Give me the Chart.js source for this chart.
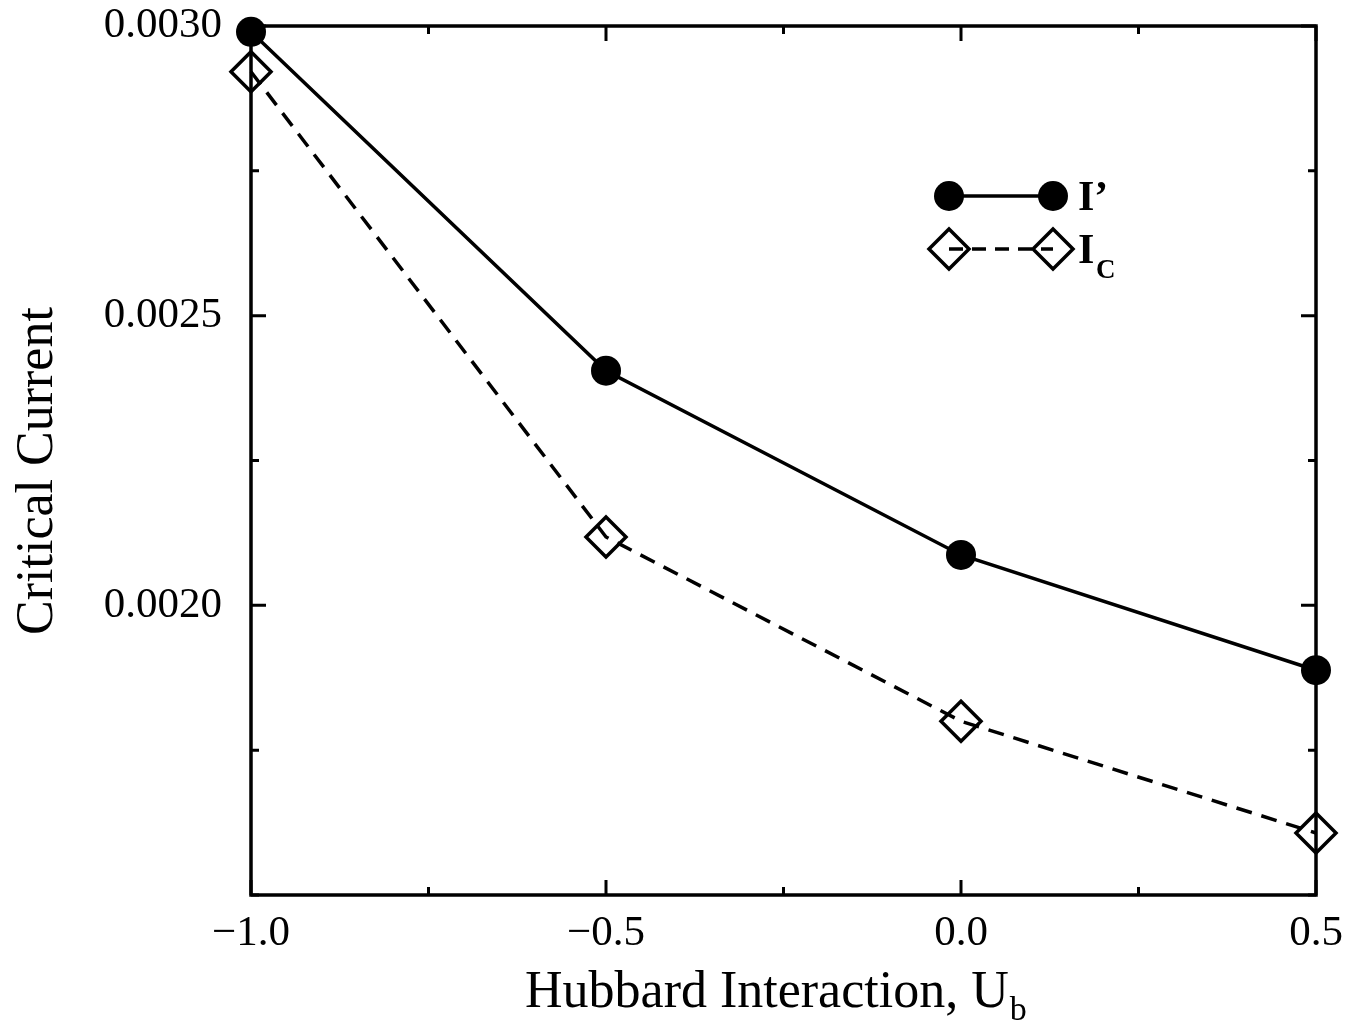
<!DOCTYPE html>
<html>
<head>
<meta charset="utf-8">
<script src="https://cdn.jsdelivr.net/npm/chart.js@4.4.1/dist/chart.umd.min.js"></script>
<style>
  html, body { margin: 0; padding: 0; background: #fff; }
  canvas { display: block; }
</style>
</head>
<body>
<canvas id="chart" width="1364" height="1026"></canvas>
<script>
// data
const hubbardU = [-1.0, -0.5, 0.0, 0.5];
const iPrime = [0.00299, 0.002405, 0.002087, 0.001888];
const iCrit = [0.002921, 0.002118, 0.0018, 0.001607];

// labelled ticks (unlabelled minor ticks sit halfway between)
const xLabelTicks = [-1.0, -0.5, 0.0, 0.5];
const yLabelTicks = [0.0020, 0.0025, 0.0030];

const serif = "'Liberation Serif', 'Times New Roman', serif";

function isLabelled(v, list) {
    return list.some(t => Math.abs(t - v) < 1e-9);
}

// frame + inward ticks on all four sides
const framePlugin = {
    id: 'frame',
    beforeDatasetsDraw(chart) {
        const { ctx, chartArea: a, scales } = chart;
        ctx.save();
        ctx.strokeStyle = '#000';
        ctx.lineWidth = 3.5;
        ctx.lineCap = 'butt';
        ctx.strokeRect(a.left, a.top, a.right - a.left, a.bottom - a.top);

        ctx.lineWidth = 3;
        scales.x.ticks.forEach(t => {
            const x = scales.x.getPixelForValue(t.value);
            const len = isLabelled(t.value, xLabelTicks) ? 15 : 8;
            ctx.beginPath();
            ctx.moveTo(x, a.bottom); ctx.lineTo(x, a.bottom - len);
            ctx.moveTo(x, a.top); ctx.lineTo(x, a.top + len);
            ctx.stroke();
        });
        scales.y.ticks.forEach(t => {
            const y = scales.y.getPixelForValue(t.value);
            const len = isLabelled(t.value, yLabelTicks) ? 15 : 8;
            ctx.beginPath();
            ctx.moveTo(a.left, y); ctx.lineTo(a.left + len, y);
            ctx.moveTo(a.right, y); ctx.lineTo(a.right - len, y);
            ctx.stroke();
        });
        ctx.restore();
    },
    afterDraw(chart) {
        const ctx = chart.ctx;
        ctx.save();
        ctx.fillStyle = '#000';

        // x title with subscript
        ctx.font = '52px ' + serif;
        ctx.textBaseline = 'alphabetic';
        ctx.textAlign = 'left';
        const main = 'Hubbard Interaction, U';
        ctx.fillText(main, 525, 1007);
        const w = ctx.measureText(main).width;
        ctx.font = '34px ' + serif;
        ctx.fillText('b', 525 + w + 1, 1020);

        // y title
        ctx.font = '52px ' + serif;
        ctx.translate(52, 471);
        ctx.rotate(-Math.PI / 2);
        ctx.textAlign = 'center';
        ctx.fillText('Critical Current', 0, 0);
        ctx.restore();

        // legend
        ctx.save();
        ctx.strokeStyle = '#000';
        ctx.fillStyle = '#000';
        ctx.lineWidth = 3.5;
        const x1 = 949, x2 = 1053;
        let y = 196;
        ctx.beginPath(); ctx.moveTo(x1, y); ctx.lineTo(x2, y); ctx.stroke();
        [x1, x2].forEach(x => {
            ctx.beginPath(); ctx.arc(x, y, 15, 0, Math.PI * 2); ctx.fill();
        });
        ctx.font = 'bold 42px ' + serif;
        ctx.textBaseline = 'alphabetic';
        ctx.fillText('I\u2019', 1078, 210);

        y = 249;
        ctx.setLineDash([14, 9]);
        ctx.beginPath(); ctx.moveTo(x1, y); ctx.lineTo(x2, y); ctx.stroke();
        ctx.setLineDash([]);
        [x1, x2].forEach(x => {
            ctx.beginPath();
            ctx.moveTo(x - 20, y); ctx.lineTo(x, y - 20);
            ctx.lineTo(x + 20, y); ctx.lineTo(x, y + 20);
            ctx.closePath(); ctx.stroke();
        });
        ctx.fillText('I', 1078, 263);
        ctx.font = 'bold 27px ' + serif;
        ctx.fillText('C', 1096, 278);
        ctx.restore();
    }
};

const ctx = document.getElementById('chart').getContext('2d');
new Chart(ctx, {
    type: 'line',
    data: {
        datasets: [{
            label: 'I\u2019',
            data: hubbardU.map((u, i) => ({ x: u, y: iPrime[i] })),
            borderColor: '#000',
            borderWidth: 3.5,
            pointStyle: 'circle',
            pointRadius: 15,
            pointBackgroundColor: '#000',
            pointBorderColor: '#000',
            pointBorderWidth: 0,
            tension: 0,
            clip: false
        }, {
            label: 'I_C',
            data: hubbardU.map((u, i) => ({ x: u, y: iCrit[i] })),
            borderColor: '#000',
            borderWidth: 3.5,
            borderDash: [16, 10],
            pointStyle: 'rectRot',
            pointRadius: 20,
            pointBackgroundColor: 'rgba(0,0,0,0)',
            pointBorderColor: '#000',
            pointBorderWidth: 3.5,
            tension: 0,
            clip: false
        }]
    },
    options: {
        responsive: false,
        animation: false,
        events: [],
        layout: { padding: { left: 0, right: 48, top: 26, bottom: 0 } },
        plugins: {
            legend: { display: false },
            tooltip: { enabled: false }
        },
        scales: {
            x: {
                type: 'linear',
                min: -1.0,
                max: 0.5,
                afterFit: s => {
                    s.height = 131;
                    s.paddingLeft = 0;
                    s.paddingRight = 0;
                },
                grid: { display: false, drawTicks: false },
                border: { display: false },
                ticks: {
                    stepSize: 0.25,
                    autoSkip: false,
                    maxRotation: 0,
                    padding: 13,
                    color: '#000',
                    font: { family: serif, size: 43 },
                    callback: v => isLabelled(v, xLabelTicks)
                        ? (v < 0 ? '\u2212' + Math.abs(v).toFixed(1) : v.toFixed(1))
                        : ''
                }
            },
            y: {
                type: 'linear',
                min: 0.0015,
                max: 0.0030,
                afterFit: s => {
                    s.width = 251;
                    s.paddingTop = 0;
                    s.paddingBottom = 0;
                },
                grid: { display: false, drawTicks: false },
                border: { display: false },
                ticks: {
                    stepSize: 0.00025,
                    autoSkip: false,
                    padding: 29,
                    color: '#000',
                    font: { family: serif, size: 43 },
                    callback: v => isLabelled(v, yLabelTicks) ? v.toFixed(4) : ''
                }
            }
        }
    },
    plugins: [framePlugin]
});
</script>
</body>
</html>
